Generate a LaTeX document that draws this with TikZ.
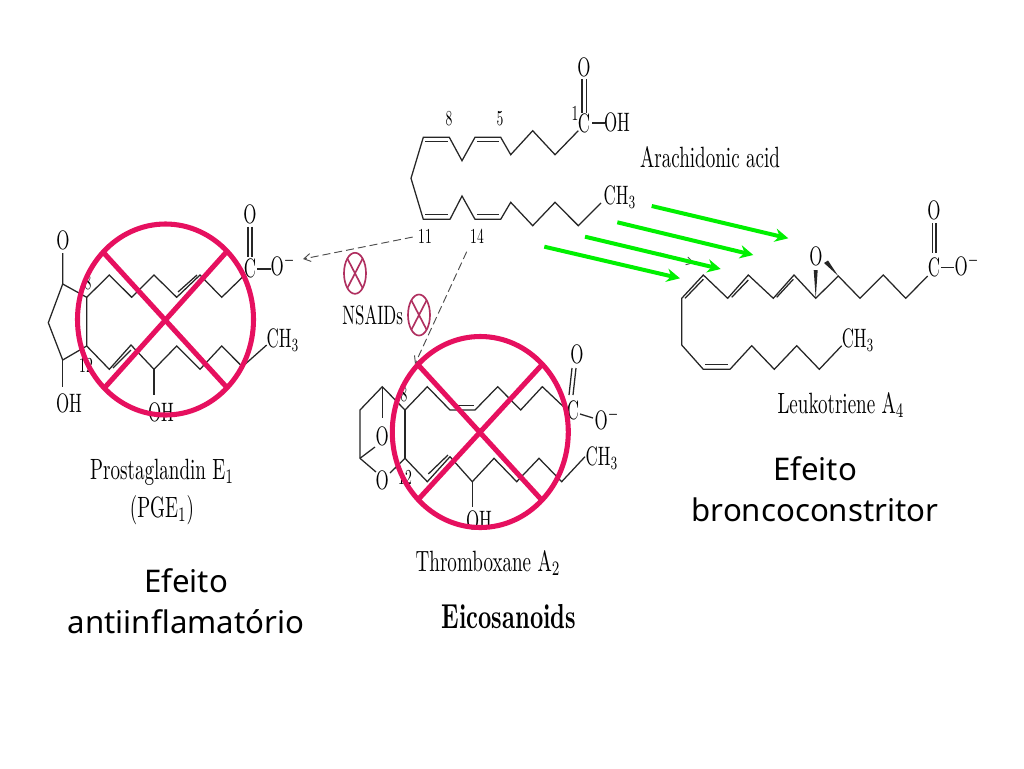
\documentclass[tikz,border=0pt]{standalone}
\usepackage{fontspec}
\usepackage{tikz}
\usetikzlibrary{positioning,calc,arrows.meta}
\newfontfamily\efeitofont{Noto Sans}
\newcommand{\tall}[1]{\scalebox{1.27}[2.0]{#1}}
\newcommand{\talln}[1]{\scalebox{1.02}[1.6]{#1}}
\newcommand{\tallt}[1]{\scalebox{1.43}[2.2]{#1}}

\begin{document}
\begin{tikzpicture}[x=0.75pt,y=-0.75pt]
    \tikzstyle{bond}=[draw=black!85, line width=0.95pt, line join=miter]
    \tikzstyle{atom}=[inner sep=0pt, text=black, font=\fontsize{10}{10}\selectfont]
    \tikzstyle{effect}=[inner sep=0pt, align=center, font=\efeitofont\fontsize{23.4}{30.75}\selectfont]
    \tikzstyle{nogo}=[draw=crossred, line width=3.8pt]
    \tikzstyle{block}=[draw=blockred, line width=1.25pt]
    \tikzstyle{route}=[draw=black!70, line width=0.7pt, dash pattern=on 6pt off 3pt, -{Straight Barb[length=5pt,width=6pt]}]
    \tikzstyle{flow}=[draw=flowgreen, line width=3pt, -{Stealth[length=10pt,width=10pt]}]
    \definecolor{crossred}{HTML}{E6105F}
    \definecolor{blockred}{HTML}{B03060}
    \definecolor{flowgreen}{HTML}{00F000}
    \useasboundingbox (0,0) rectangle (1024,768);

    % arachidonic acid
    \draw[bond] (578.3,130.7) -- (555,154.7) -- (532.7,130.7) -- (510.7,154.7) -- (500.7,137.3) -- (475,137.3) -- (462,160.7) -- (449.3,137.3) -- (423.3,137.3) -- (411,178.3) -- (423.3,219.3) -- (450,219.3) -- (462,196) -- (475,219.3) -- (500.7,219.3) -- (510.7,202.3) -- (532.7,225.7) -- (555,202.3) -- (578.3,225.7) -- (601,203);
    \draw[bond] (425,141.6) -- (448,141.6);
    \draw[bond] (477,141.6) -- (499,141.6);
    \draw[bond] (425,214.8) -- (448,214.8);
    \draw[bond] (477,214.8) -- (499,214.8);
    \draw[bond] (582,79) -- (582,113);
    \draw[bond] (586.5,79) -- (586.5,113);
    \draw[bond] (592,123) -- (605,123);
    \node[atom] (aO) at (584,67) {\tall{O}};
    \node[atom] (aC) at (584,123) {\tall{C}};
    \node[atom] (aOH) at (617,122) {\tall{OH}};
    \node[atom] (aCH) at (620,197) {\tall{CH$_3$}};
    \node[atom] (n8) at (449,119) {\talln{8}};
    \node[atom] (n5) at (500,119) {\talln{5}};
    \node[atom] (n1) at (575,113) {\talln{1}};
    \node[atom] (n11) at (425,236) {\talln{11}};
    \node[atom] (n14) at (477,236) {\talln{14}};
    \node[atom] (arach) at (710,157) {\tallt{Arachidonic acid}};

    % prostaglandin
    \draw[bond] (62.7,253) -- (62.7,284) -- (86.7,297.3) -- (86.7,346) -- (62.7,360) -- (48.3,322.7) -- (62.7,284);
    \draw[bond] (62.7,360) -- (62.7,387);
    \draw[bond] (86.7,297.3) -- (109.3,275) -- (131.7,297.3) -- (154,275) -- (176.7,297.3) -- (200,275) -- (221.7,297.3) -- (242.3,277.3);
    \draw[bond] (86.7,346) -- (109.3,369.3) -- (131,345) -- (154,369.3) -- (176.7,346) -- (200,369.3) -- (221.7,346) -- (242.3,366.7) -- (266.7,345);
    \draw[bond] (154,369.3) -- (154,395);
    \draw[bond] (178,292) -- (197,275);
    \draw[bond] (113,368) -- (131,350);
    \draw[bond] (248,226.7) -- (248,256.7);
    \draw[bond] (252,226.7) -- (252,256.7);
    \draw[bond] (257,269) -- (271,269);
    \node[atom] (pO) at (63,240) {\tall{O}};
    \node[atom] (pOHa) at (69,403) {\tall{OH}};
    \node[atom] (pOHb) at (161,412) {\tall{OH}};
    \node[atom] (pC) at (250,268) {\tall{C}};
    \node[atom] (pOt) at (250,214) {\tall{O}};
    \node[atom] (pOm) at (283,265) {\tall{O$^-$}};
    \node[atom] (pCH) at (283,340) {\tall{CH$_3$}};
    \node[atom] (p8) at (88,283) {\talln{8}};
    \node[atom] (p12) at (86,365) {\talln{12}};
    \node[atom] (pge) at (162,472) {\tallt{Prostaglandin E$_1$}};
    \node[atom] (pgeb) at (162,510) {\tallt{(PGE$_1$)}};

    % thromboxane
    \draw[bond] (405,410) -- (405,458.3);
    \draw[bond] (405,410) -- (382.3,386.7) -- (360,410) -- (360,458.3) -- (376,472);
    \draw[bond] (382.3,386.7) -- (382.3,418);
    \draw[bond] (375,447) -- (360,458.3);
    \draw[bond] (390,473) -- (405,458.3);
    \draw[bond] (405,410) -- (427.3,386.7) -- (450,410) -- (475,410) -- (497.7,386.7) -- (520.7,410) -- (542.3,386.7) -- (567,410);
    \draw[bond] (405,458.3) -- (427.3,481.7) -- (450,456.7) -- (472.3,481.7) -- (494,458.3) -- (516.7,481.7) -- (539,458.3) -- (561.7,481.7) -- (585,456.7);
    \draw[bond] (472.3,481.7) -- (472.3,507);
    \draw[bond] (452,405.5) -- (474,405.5);
    \draw[bond] (428.3,474) -- (448,455);
    \draw[bond] (572,368) -- (569,395);
    \draw[bond] (576,368) -- (573,395);
    \draw[bond] (580,414) -- (593,418);
    \node[atom] (tOa) at (382.3,436.7) {\tall{O}};
    \node[atom] (tOb) at (382.3,480) {\tall{O}};
    \node[atom] (tO) at (577,354) {\tall{O}};
    \node[atom] (tC) at (573,410) {\tall{C}};
    \node[atom] (tOm) at (607,419) {\tall{O$^-$}};
    \node[atom] (tCH) at (602,458) {\tall{CH$_3$}};
    \node[atom] (tOH) at (479,520) {\tall{OH}};
    \node[atom] (t8) at (404,395) {\talln{8}};
    \node[atom] (t12) at (405,477) {\talln{12}};
    \node[atom] (txa) at (488,563) {\tallt{Thromboxane A$_2$}};
    \node[atom] (eico) at (509,617) {\scalebox{1.74}[2.6]{\bfseries Eicosanoids}};

    % leukotriene
    \draw[bond] (927.7,276) -- (905.7,298.3) -- (883.3,275) -- (860,298.3) -- (838.3,276) -- (815.7,298.3) -- (794,275) -- (773.3,298.3) -- (748.3,275) -- (727.7,298.3) -- (703.3,275) -- (681.7,298.3) -- (681.7,345) -- (703.3,369.3) -- (730,369.3) -- (751.7,345.7) -- (774.3,369.3) -- (796.7,345.7) -- (819.3,369.3) -- (841.7,345.7);
    \draw[bond] (685,298.3) -- (703.3,279.3);
    \draw[bond] (731.7,297.3) -- (748.3,280);
    \draw[bond] (776.7,297.3) -- (793.3,279.3);
    \draw[bond] (705,364.5) -- (728,364.5);
    \fill[black!85] (815.7,298.3) -- (813.7,270) -- (817.7,270) -- cycle;
    \fill[black!85] (838.3,276) -- (824,263) -- (828,260.5) -- cycle;
    \draw[bond] (932.3,223) -- (932.3,253);
    \draw[bond] (936,223) -- (936,253);
    \draw[bond] (941,267.3) -- (954,267.3);
    \node[atom] (lOe) at (816,256) {\tall{O}};
    \node[atom] (lO) at (934,210) {\tall{O}};
    \node[atom] (lC) at (934,267) {\tall{C}};
    \node[atom] (lOm) at (967,265) {\tall{O$^-$}};
    \node[atom] (lCH) at (858,340) {\tall{CH$_3$}};
    \node[atom] (ltb) at (841,405) {\tallt{Leukotriene A$_4$}};

    % enzyme routes
    \coordinate (pgend) at (303,259);
    \coordinate (txstart) at (466.7,251.7);
    \coordinate (txend) at (415,364);
    \coordinate (ltstart) at (660,253);
    \coordinate (ltend) at (694,263);
    \draw[route, shorten <=4pt] (n11.west) -- (pgend);
    \draw[route] (txstart) -- (txend);
    \draw[route] (ltstart) -- (ltend);
    \node[atom] (nsaid) at (372.7,315) {\tall{NSAIDs}};

    % blockers
    \foreach \cx/\cy in {355/273.3, 419/315} {
        \draw[block] (\cx,\cy) ellipse (11 and 20.5);
        \draw[block] ($(\cx,\cy)+(-7.5,-14.5)$) -- ($(\cx,\cy)+(7.5,14.5)$);
        \draw[block] ($(\cx,\cy)+(7.5,-14.5)$) -- ($(\cx,\cy)+(-7.5,14.5)$);
    }

    % crossed out
    \draw[nogo] (165.5,319.5) ellipse (88 and 95.5);
    \draw[nogo] (102.7,251.7) -- (226.7,387.3);
    \draw[nogo] (226.7,251.7) -- (105,387.3);
    \draw[nogo] (480.3,432) ellipse (88 and 95.5);
    \draw[nogo] (416.7,363.3) -- (541.7,500);
    \draw[nogo] (541.7,365) -- (419.3,498.3);

    % green arrows
    \foreach \i/\xa/\ya/\xb/\yb in {1/651.7/206/788.3/238.3, 2/617.3/222.3/753.3/255, 3/585/236.7/720.7/269, 4/544.3/246.7/680/278.3} {
        \coordinate (gs\i) at (\xa,\ya);
        \coordinate (ge\i) at (\xb,\yb);
        \draw[flow] (gs\i) -- (ge\i);
    }

    \node[effect] (efa) at (186,601) {Efeito\\antiinflamatório};
    \node[effect] (efb) at (815,489) {Efeito\\broncoconstritor};
\end{tikzpicture}
\end{document}
